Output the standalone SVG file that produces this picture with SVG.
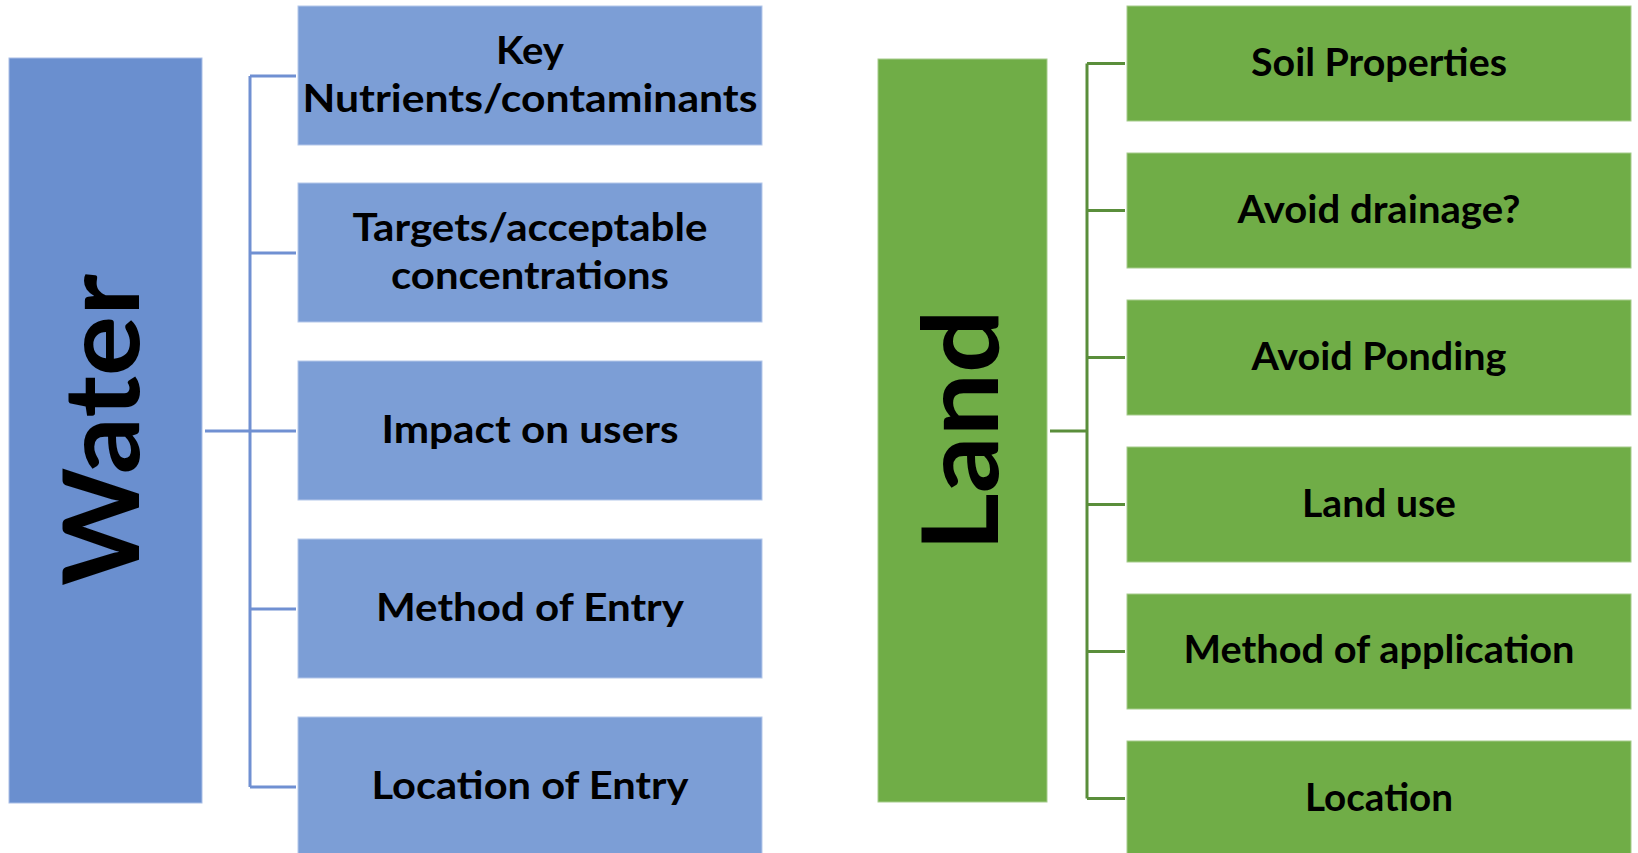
<svg xmlns="http://www.w3.org/2000/svg" width="1638" height="853" viewBox="0 0 1638 853">
<style>
.wmain{fill:#6A8FCF;stroke:#A9BEE6;stroke-width:1}
.wbox{fill:#7C9ED6;stroke:#B4C7EA;stroke-width:1}
.lmain{fill:#70AD47;stroke:#A6CC8C;stroke-width:1}
.lbox{fill:#70AD47;stroke:#A6CC8C;stroke-width:1}
.t{font-family:Lato,"Open Sans","Liberation Sans",sans-serif;font-weight:700;font-size:39px;fill:#000;text-anchor:middle}
.big{font-family:Lato,"Open Sans","Liberation Sans",sans-serif;font-weight:700;font-size:106px;fill:#000;text-anchor:middle}
.wc{fill:none;stroke:#7090D2;stroke-width:3}
.lc{fill:none;stroke:#5A8E3B;stroke-width:3}
</style>
<rect width="1638" height="853" fill="#FFFFFF"/>
<g id="connectors">
<path class="wc" d="M205 431H296M250 76V787M250 76H296M250 253H296M250 609H296M250 787H296"/>
<path class="lc" d="M1050 431H1087M1087 63.5V798.5M1087 63.5H1125M1087 210.5H1125M1087 357.5H1125M1087 504.5H1125M1087 651.5H1125M1087 798.5H1125"/>
</g>
<g id="water">
<rect class="wmain" x="9" y="58" width="193" height="745"/>
<text class="big" transform="translate(139,430) rotate(-90)" x="0" y="0" textLength="312" lengthAdjust="spacingAndGlyphs">Water</text>
</g>
<g id="w1">
<rect class="wbox" x="298" y="6" width="464" height="139"/>
<text class="t" x="530" y="64" textLength="68" lengthAdjust="spacingAndGlyphs">Key</text>
<text class="t" x="530" y="112" textLength="455" lengthAdjust="spacingAndGlyphs">Nutrients/contaminants</text>
</g>
<g id="w2">
<rect class="wbox" x="298" y="183" width="464" height="139"/>
<text class="t" x="530" y="241" textLength="355" lengthAdjust="spacingAndGlyphs">Targets/acceptable</text>
<text class="t" x="530" y="289" textLength="278" lengthAdjust="spacingAndGlyphs">concentrations</text>
</g>
<g id="w3">
<rect class="wbox" x="298" y="361" width="464" height="139"/>
<text class="t" x="530" y="443" textLength="297" lengthAdjust="spacingAndGlyphs">Impact on users</text>
</g>
<g id="w4">
<rect class="wbox" x="298" y="539" width="464" height="139"/>
<text class="t" x="530" y="621" textLength="308" lengthAdjust="spacingAndGlyphs">Method of Entry</text>
</g>
<g id="w5">
<rect class="wbox" x="298" y="717" width="464" height="139"/>
<text class="t" x="530" y="799" textLength="317" lengthAdjust="spacingAndGlyphs">Location of Entry</text>
</g>
<g id="land">
<rect class="lmain" x="878" y="59" width="169" height="743"/>
<text class="big" transform="translate(998,430.5) rotate(-90)" x="0" y="0" textLength="242" lengthAdjust="spacingAndGlyphs">Land</text>
</g>
<g id="l1">
<rect class="lbox" x="1127" y="6" width="504" height="115"/>
<text class="t" x="1379" y="76" textLength="256" lengthAdjust="spacingAndGlyphs">Soil Properties</text>
</g>
<g id="l2">
<rect class="lbox" x="1127" y="153" width="504" height="115"/>
<text class="t" x="1379" y="223" textLength="283" lengthAdjust="spacingAndGlyphs">Avoid drainage?</text>
</g>
<g id="l3">
<rect class="lbox" x="1127" y="300" width="504" height="115"/>
<text class="t" x="1379" y="370" textLength="255" lengthAdjust="spacingAndGlyphs">Avoid Ponding</text>
</g>
<g id="l4">
<rect class="lbox" x="1127" y="447" width="504" height="115"/>
<text class="t" x="1379" y="517" textLength="154" lengthAdjust="spacingAndGlyphs">Land use</text>
</g>
<g id="l5">
<rect class="lbox" x="1127" y="594" width="504" height="115"/>
<text class="t" x="1379" y="663" textLength="391" lengthAdjust="spacingAndGlyphs">Method of application</text>
</g>
<g id="l6">
<rect class="lbox" x="1127" y="741" width="504" height="115"/>
<text class="t" x="1379" y="811" textLength="148" lengthAdjust="spacingAndGlyphs">Location</text>
</g>
</svg>
